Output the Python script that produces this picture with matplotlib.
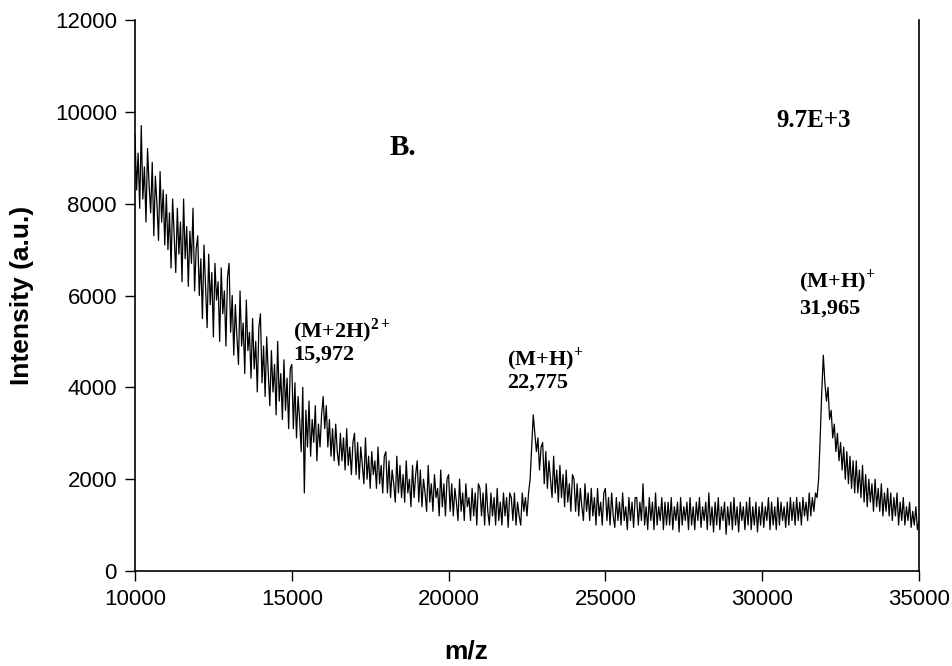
import numpy as np
import matplotlib
matplotlib.use("Agg")
import matplotlib.pyplot as plt

# m/z grid, one reading every 50 units
mz = np.arange(10000, 35001, 50)

# intensity (a.u.), one row per 1000 m/z
intensity = [
    9500, 8300, 9100, 7900, 9700, 8100, 8800, 7600, 9200, 8400, 7800, 8900, 7300, 8600, 8000, 7200, 8700, 7600, 8300, 7100,  # 10000
    8200, 7000, 7800, 6600, 8100, 7300, 6500, 7900, 6900, 7600, 6300, 8100, 6800, 7500, 6200, 7400, 6700, 7900, 6100, 7000,  # 11000
    7300, 6000, 6800, 5500, 7100, 6200, 5300, 6900, 5800, 6500, 5100, 6700, 5900, 6300, 5000, 6600, 5600, 6100, 4900, 6400,  # 12000
    6700, 5200, 6000, 4700, 5800, 5100, 4500, 6100, 4900, 5400, 4300, 5900, 4800, 5200, 4200, 5500, 4400, 5000, 3900, 5300,  # 13000
    5600, 4100, 4900, 3800, 5100, 4300, 3600, 4800, 3900, 4500, 3400, 5000, 3700, 4300, 3300, 4600, 3500, 4200, 3100, 4400,  # 14000
    4500, 3100, 4100, 2900, 3800, 3300, 2600, 4000, 1700, 3500, 2700, 3700, 2500, 3300, 2800, 3600, 2400, 3200, 2700, 3400,  # 15000
    3800, 3100, 3600, 2700, 3300, 2500, 3100, 2400, 3200, 2600, 2300, 3000, 2400, 2900, 2200, 3100, 2300, 2700, 2100, 2800,  # 16000
    3000, 2100, 2800, 2000, 2700, 2300, 1900, 2900, 2000, 2500, 1800, 2600, 2100, 2400, 1800, 2700, 1900, 2300, 1700, 2500,  # 17000
    2600, 1700, 2400, 1600, 2200, 1900, 1500, 2500, 1700, 2300, 1600, 2100, 1500, 2400, 1700, 2000, 1400, 2300, 1600, 2100,  # 18000
    2400, 1500, 2200, 1400, 2000, 1700, 1300, 2300, 1500, 1900, 1300, 2100, 1600, 1800, 1200, 2200, 1400, 1900, 1200, 2000,  # 19000
    2100, 1300, 1900, 1200, 1800, 1500, 1100, 2000, 1300, 1700, 1100, 1900, 1400, 1600, 1100, 1800, 1200, 1700, 1000, 1900,  # 20000
    1800, 1200, 1700, 1000, 1900, 1300, 1000, 1700, 1200, 1600, 1000, 1800, 1100, 1500, 1000, 1700, 1200, 1600, 950, 1700,   # 21000
    1600, 1100, 1700, 1000, 1500, 1200, 1000, 1700, 1300, 1600, 1200, 1700, 2000, 2700, 3400, 3000, 2600, 2900, 2200, 2700,  # 22000
    2800, 1900, 2600, 1800, 2400, 2000, 1600, 2500, 1700, 2200, 1500, 2300, 1600, 2100, 1400, 2200, 1500, 1900, 1300, 2100,  # 23000
    2000, 1300, 1900, 1200, 1800, 1400, 1100, 1900, 1300, 1700, 1100, 1800, 1200, 1600, 1000, 1800, 1200, 1500, 1000, 1700,  # 24000
    1800, 1100, 1600, 1000, 1700, 1200, 950, 1600, 1100, 1500, 1000, 1700, 1100, 1400, 900, 1600, 1100, 1500, 950, 1600,     # 25000
    1600, 1000, 1500, 1100, 1900, 1000, 1400, 900, 1600, 1100, 1500, 900, 1700, 1000, 1400, 1100, 1600, 900, 1500, 1000,     # 26000
    1500, 1000, 1600, 900, 1400, 1100, 1500, 850, 1600, 1000, 1400, 1100, 1500, 900, 1600, 1000, 1400, 900, 1500, 1100,      # 27000
    1600, 950, 1400, 1100, 1500, 900, 1700, 1000, 1400, 850, 1500, 1000, 1600, 900, 1400, 1100, 1500, 800, 1400, 1000,       # 28000
    1500, 900, 1600, 1000, 1400, 850, 1500, 1100, 1400, 900, 1500, 1000, 1600, 900, 1400, 1000, 1500, 850, 1400, 1000,       # 29000
    1500, 950, 1400, 1100, 1600, 900, 1500, 1000, 1400, 900, 1600, 1000, 1500, 1100, 1400, 950, 1500, 1000, 1600, 1100,      # 30000
    1500, 1000, 1600, 1100, 1500, 1000, 1600, 1200, 1500, 1100, 1700, 1200, 1600, 1300, 1700, 1600, 2000, 2900, 3900, 4700,  # 31000
    4100, 3700, 4000, 3300, 3500, 2900, 3200, 2600, 3000, 2400, 2800, 2200, 2700, 2000, 2600, 1900, 2500, 1800, 2400, 1700,  # 32000
    2400, 1700, 2200, 1600, 2300, 1500, 2100, 1400, 2000, 1500, 1900, 1300, 2000, 1400, 1800, 1300, 1900, 1200, 1700, 1300,  # 33000
    1800, 1200, 1700, 1100, 1600, 1200, 1700, 1000, 1500, 1100, 1600, 1000, 1400, 1100, 1500, 950, 1300, 1000, 1400, 900,    # 34000
    1100,                                                                                                                    # 35000
]

# peak labels: ion, charge, m/z text, left x, baseline of each line
peaks = [
    ("(M+2H)", "2+", "15,972", 15040, 5100, 4600),
    ("(M+H)", "+", "22,775", 21860, 4470, 3990),
    ("(M+H)", "+", "31,965", 31170, 6170, 5600),
]

plt.rcParams['mathtext.fontset'] = 'custom'
plt.rcParams['mathtext.rm'] = 'Liberation Serif:bold'
plt.rcParams['mathtext.bf'] = 'Liberation Serif:bold'

fig = plt.figure(figsize=(9.52, 6.66), dpi=100)
ax = fig.add_axes([0.1418, 0.1426, 0.8235, 0.8274])

ax.plot(mz, intensity, color='black', linewidth=0.9)

ax.set_xlim(10000, 35000)
ax.set_ylim(0, 12000)
ax.set_xticks(range(10000, 35001, 5000))
ax.set_yticks(range(0, 12001, 2000))
ax.tick_params(direction='out', length=7, width=1, labelsize=16, pad=6,
               labelfontfamily='Liberation Sans')
ax.spines['top'].set_visible(False)
for s in ['left', 'right', 'bottom']:
    ax.spines[s].set_linewidth(1.2)

ax.set_xlabel('m/z', fontsize=19, fontweight='bold', family='Liberation Sans', labelpad=20)
ax.xaxis.set_label_coords(0.422, -0.125)
ax.set_ylabel('Intensity (a.u.)', fontsize=19, fontweight='bold', family='Liberation Sans', labelpad=15)

serif = dict(family='Liberation Serif', fontweight='bold', color='black')
ax.text(18130, 9060, 'B.', fontsize=21, ha='left', va='baseline', **serif)
ax.text(30440, 9670, '9.7E+3', fontsize=18, ha='left', va='baseline', **serif)
for name, charge, val, x, y1, y2 in peaks:
    ax.text(x, y1, name + r'$^{\mathbf{' + charge + '}}$', fontsize=16, ha='left', va='baseline', **serif)
    ax.text(x, y2, val, fontsize=16, ha='left', va='baseline', **serif)

fig.savefig('out.png', dpi=100)
